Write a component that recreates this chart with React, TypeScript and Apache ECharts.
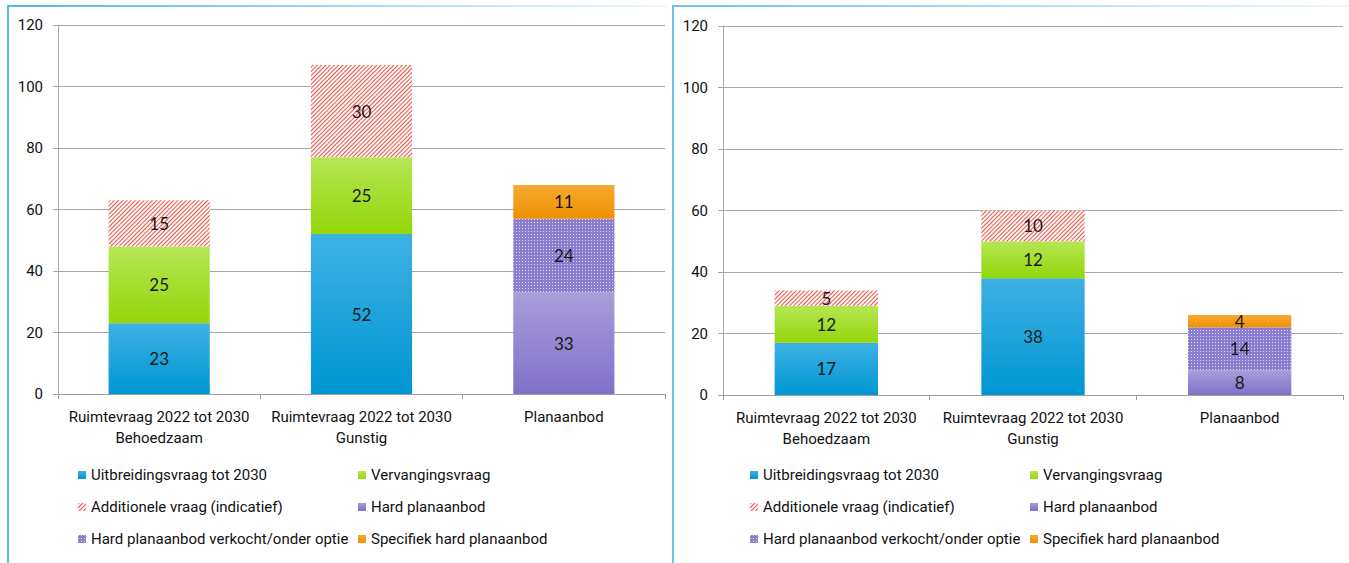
import React, { useEffect, useRef } from "react";
import * as echarts from "echarts";

const categories = [
  "Ruimtevraag 2022 tot 2030\nBehoedzaam",
  "Ruimtevraag 2022 tot 2030\nGunstig",
  "Planaanbod",
];
const yTicks = { min: 0, max: 120, interval: 20 };

const seriesNames = [
  "Uitbreidingsvraag tot 2030",
  "Vervangingsvraag",
  "Additionele vraag (indicatief)",
  "Hard planaanbod",
  "Hard planaanbod verkocht/onder optie",
  "Specifiek hard planaanbod",
];

// Left panel
const leftUitbreiding = [23, 52, null];
const leftVervanging = [25, 25, null];
const leftAdditioneel = [15, 30, null];
const leftHard = [null, null, 33];
const leftVerkocht = [null, null, 24];
const leftSpecifiek = [null, null, 11];

// Right panel
const rightUitbreiding = [17, 38, null];
const rightVervanging = [12, 12, null];
const rightAdditioneel = [5, 10, null];
const rightHard = [null, null, 8];
const rightVerkocht = [null, null, 14];
const rightSpecifiek = [null, null, 4];

const FONT = "Roboto, sans-serif";
const LABEL_FONT = "Lato, 'Open Sans', sans-serif";

const grad = (top: string, bottom: string) =>
  new echarts.graphic.LinearGradient(0, 0, 0, 1, [
    { offset: 0, color: top },
    { offset: 1, color: bottom },
  ]);

const styles = [
  { color: grad("#3eb1e2", "#0096d4") },
  { color: grad("#b6e654", "#94d60a") },
  {
    color: "#fff6f4",
    decal: {
      symbol: "rect",
      symbolSize: 1,
      dashArrayX: [1, 0],
      dashArrayY: [1, 2],
      rotation: -Math.PI / 4,
      color: "#e2584f",
    },
  },
  { color: grad("#a99ddb", "#8070c9") },
  {
    color: "#8b7ed0",
    decal: {
      symbol: "rect",
      symbolSize: 1,
      dashArrayX: [1, 2],
      dashArrayY: [1, 2],
      rotation: 0,
      color: "rgba(255,255,255,0.7)",
    },
  },
  { color: grad("#f6aa34", "#ef9000") },
];

export default function App() {
  const ref = useRef<HTMLDivElement>(null);
  useEffect(() => {
    if (!ref.current) return;
    const chart = echarts.init(ref.current, undefined, { renderer: "svg" });
    const panels = [
      {
        data: [leftUitbreiding, leftVervanging, leftAdditioneel, leftHard, leftVerkocht, leftSpecifiek],
        grid: { left: 58, top: 25, width: 607, height: 369 },
      },
      {
        data: [rightUitbreiding, rightVervanging, rightAdditioneel, rightHard, rightVerkocht, rightSpecifiek],
        grid: { left: 723, top: 26, width: 620, height: 369 },
      },
    ];
    const series: any[] = [];
    panels.forEach((p, pi) => {
      p.data.forEach((d, si) => {
        series.push({
          type: "bar",
          name: seriesNames[si],
          xAxisIndex: pi,
          yAxisIndex: pi,
          stack: "s" + pi,
          barWidth: "50%",
          data: d,
          itemStyle: styles[si],
          label: {
            show: true,
            position: "inside",
            color: "#1a1a1a",
            fontSize: 17,
            fontFamily: LABEL_FONT,
            formatter: (v: any) => (v.value == null ? "" : String(v.value)),
          },
          emphasis: { disabled: true },
        });
      });
    });
    const xAxes = panels.map((p, i) => ({
      type: "category",
      gridIndex: i,
      data: categories,
      axisLine: { show: true, lineStyle: { color: "#a0a0a0", width: 1 } },
      axisTick: { show: true, length: 5, lineStyle: { color: "#a0a0a0" } },
      axisLabel: {
        color: "#111",
        fontFamily: FONT,
        fontSize: 15,
        lineHeight: 21,
        margin: 12,
        interval: 0,
      },
    }));
    const yAxes = panels.map((p, i) => ({
      type: "value",
      gridIndex: i,
      ...yTicks,
      axisLine: { show: true, lineStyle: { color: "#a8a8a8", width: 1 } },
      axisTick: { show: true, length: 5, lineStyle: { color: "#a8a8a8" } },
      splitLine: { show: true, lineStyle: { color: "#a6a6a6", width: 1 } },
      axisLabel: {
        color: "#111",
        fontFamily: FONT,
        fontSize: 15,
        margin: 15,
      },
    }));
    const legendBase = {
      orient: "vertical",
      itemWidth: 8,
      itemHeight: 8,
      itemGap: 14,
      icon: "rect",
      selectedMode: false,
      textStyle: { color: "#111", fontFamily: FONT, fontSize: 15, lineHeight: 18 },
    };
    const col1 = [seriesNames[0], seriesNames[2], seriesNames[4]];
    const col2 = [seriesNames[1], seriesNames[3], seriesNames[5]];
    const legends = [
      { ...legendBase, left: 73, top: 466, data: col1 },
      { ...legendBase, left: 353, top: 466, data: col2 },
      { ...legendBase, left: 745, top: 466, data: col1 },
      { ...legendBase, left: 1025, top: 466, data: col2 },
    ].map((l) => ({ ...l, top: 461 }));
    const borderGradL = new echarts.graphic.LinearGradient(0, 0, 1, 0, [
      { offset: 0, color: "#55b6e4" },
      { offset: 1, color: "#eef8fd" },
    ]);
    const borderGradR = new echarts.graphic.LinearGradient(0, 0, 1, 0, [
      { offset: 0, color: "#6cc2ea" },
      { offset: 1, color: "#eef8fd" },
    ]);
    chart.setOption({
      animation: false,
      grid: panels.map((p) => ({ ...p.grid, containLabel: false })),
      xAxis: xAxes,
      yAxis: yAxes,
      legend: legends,
      series,
      graphic: [
        { type: "rect", shape: { x: 7, y: 5, width: 660, height: 2 }, style: { fill: borderGradL } },
        { type: "rect", shape: { x: 7, y: 5, width: 2, height: 600 }, style: { fill: "#5bb9e6" } },
        { type: "rect", shape: { x: 673, y: 5, width: 676, height: 2 }, style: { fill: borderGradR } },
        { type: "rect", shape: { x: 672, y: 5, width: 2, height: 600 }, style: { fill: "#6cc2ea" } },
      ],
    });
    return () => chart.dispose();
  }, []);
  return (
    <div
      ref={ref}
      style={{ position: "fixed", left: 0, top: 0, width: 1349, height: 563, background: "#fff" }}
    />
  );
}
